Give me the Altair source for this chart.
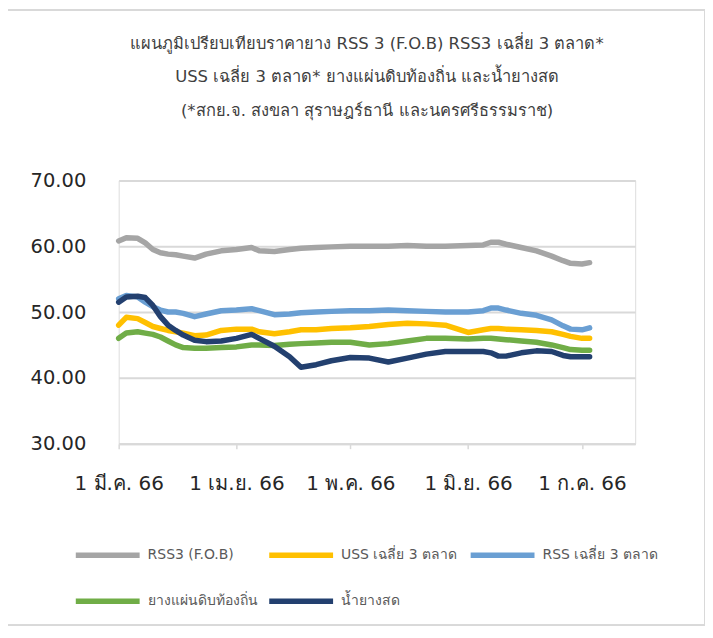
import altair as alt
import pandas as pd

# day offsets from 1 Mar 2023
days = [0, 2, 5, 7, 9, 11, 13, 15, 17, 20, 23, 27, 31, 35, 37, 41, 45, 48, 52, 56,
        61, 66, 71, 76, 81, 86, 92, 96, 98, 100, 102, 106, 110, 114, 117, 119, 122, 124]

rss3_fob = [60.8, 61.3, 61.2, 60.5, 59.5, 59.0, 58.8, 58.7, 58.5, 58.2, 58.8, 59.3, 59.5, 59.8,
            59.3, 59.2, 59.5, 59.7, 59.8, 59.9, 60.0, 60.0, 60.0, 60.1, 60.0, 60.0, 60.1, 60.2,
            60.6, 60.6, 60.3, 59.8, 59.3, 58.5, 57.8, 57.4, 57.3, 57.5]
uss_avg = [48.0, 49.2, 49.0, 48.4, 47.8, 47.5, 47.2, 47.0, 46.8, 46.4, 46.5, 47.2, 47.4, 47.4,
           47.0, 46.7, 47.0, 47.3, 47.3, 47.5, 47.6, 47.8, 48.1, 48.3, 48.2, 48.0, 46.9, 47.3,
           47.5, 47.5, 47.4, 47.3, 47.2, 47.0, 46.6, 46.3, 46.0, 46.0]
rss_avg = [52.0, 52.5, 52.3, 51.5, 50.8, 50.3, 50.0, 50.0, 49.8, 49.3, 49.7, 50.2, 50.3, 50.5,
           50.2, 49.6, 49.7, 49.9, 50.0, 50.1, 50.2, 50.2, 50.3, 50.2, 50.1, 50.0, 50.0, 50.2,
           50.6, 50.6, 50.3, 49.8, 49.5, 48.8, 47.9, 47.4, 47.3, 47.6]
local_sheet = [46.0, 46.8, 47.0, 46.8, 46.6, 46.2, 45.6, 45.0, 44.6, 44.5, 44.5, 44.6, 44.7, 45.0,
               45.0, 44.9, 45.1, 45.2, 45.3, 45.4, 45.4, 45.0, 45.2, 45.6, 46.0, 46.0, 45.9, 46.0,
               46.0, 45.9, 45.8, 45.6, 45.4, 45.0, 44.6, 44.3, 44.2, 44.2]
latex = [51.5, 52.3, 52.4, 52.2, 51.0, 49.3, 48.0, 47.2, 46.5, 45.7, 45.5, 45.6, 46.0, 46.6,
         46.0, 44.8, 43.2, 41.6, 42.0, 42.6, 43.1, 43.0, 42.4, 43.0, 43.6, 44.0, 44.0, 44.0,
         43.8, 43.3, 43.3, 43.8, 44.1, 44.0, 43.4, 43.2, 43.2, 43.2]

series_names = ["RSS3 (F.O.B)", "USS เฉลี่ย 3 ตลาด", "RSS เฉลี่ย 3 ตลาด", "ยางแผ่นดิบท้องถิ่น", "น้ำยางสด"]
series_colors = ["#a5a5a5", "#ffc000", "#6a9fd3", "#70ad47", "#23406f"]
series_values = [rss3_fob, uss_avg, rss_avg, local_sheet, latex]

tick_dates = ["2023-03-01", "2023-04-01", "2023-05-01", "2023-06-01", "2023-07-01"]
tick_labels = ["1 มี.ค. 66", "1 เม.ย. 66", "1 พ.ค. 66", "1 มิ.ย. 66", "1 ก.ค. 66"]

title_lines = ["แผนภูมิเปรียบเทียบราคายาง RSS 3 (F.O.B) RSS3 เฉลี่ย 3 ตลาด*",
               "USS เฉลี่ย 3 ตลาด* ยางแผ่นดิบท้องถิ่น และน้ำยางสด",
               "(*สกย.จ. สงขลา สุราษฎร์ธานี และนครศรีธรรมราช)"]

start = pd.Timestamp("2023-03-01")
rows = []
for name, vals in zip(series_names, series_values):
    for d, v in zip(days, vals):
        rows.append({"date": (start + pd.Timedelta(days=d)).strftime("%Y-%m-%d"),
                     "series": name, "value": v})
df = pd.DataFrame(rows)

FONT = "'DejaVu Sans', sans-serif"
W, H = 518, 264

label_expr = "[" + ",".join("'" + t + "'" for t in tick_labels) + "][utcmonth(datum.value) - 2]"
tick_dt = [alt.DateTime(year=int(t[:4]), month=int(t[5:7]), date=int(t[8:]), utc=True) for t in tick_dates]

lines = alt.Chart(df).mark_line(strokeWidth=5.5, strokeCap="round", strokeJoin="round").encode(
    x=alt.X("date:T",
            scale=alt.Scale(type="utc",
                            domain=[alt.DateTime(year=2023, month=3, date=1, utc=True),
                                    alt.DateTime(year=2023, month=7, date=15, utc=True)]),
            axis=alt.Axis(values=tick_dt, labelExpr=label_expr, title=None, grid=False,
                          domainColor="#d9d9d9", domainWidth=2, tickColor="#d9d9d9",
                          tickWidth=1.5, tickSize=5, labelFontSize=20, labelColor="#262626",
                          labelPadding=25, labelFont=FONT, labelAlign="center")),
    y=alt.Y("value:Q", scale=alt.Scale(domain=[30, 70], nice=False, zero=False),
            axis=alt.Axis(values=[30, 40, 50, 60, 70], format=".2f", title=None,
                          domain=False, ticks=False, gridColor="#d9d9d9", gridWidth=2,
                          labelFontSize=19.5, labelColor="#262626", labelPadding=33,
                          labelFont=FONT)),
    color=alt.Color("series:N",
                    scale=alt.Scale(domain=series_names, range=series_colors),
                    sort=series_names,
                    legend=alt.Legend(title=None, orient="none", legendX=-46, legendY=341,
                                      direction="horizontal", columns=3,
                                      symbolType="stroke", symbolSize=4100,
                                      symbolStrokeWidth=5.5, labelFontSize=14,
                                      labelColor="#595959", labelFont=FONT,
                                      rowPadding=-13, columnPadding=0,
                                      labelOffset=5)),
    order=alt.Order("series:N")
)

frame = alt.Chart(df).mark_rect(fill=None, stroke="#d9d9d9", strokeWidth=1.5).encode(
    x=alt.value(-112), x2=alt.value(W + 70), y=alt.value(-171), y2=alt.value(H + 182)
)

chart = alt.layer(frame, lines).properties(
    width=W, height=H,
    title=alt.TitleParams(text=title_lines, fontSize=16.5, fontWeight="normal",
                          color="#404040", font=FONT, lineHeight=34,
                          anchor="middle", dx=-10, offset=58, dy=169),
    padding={"left": 111, "top": 172, "right": 70, "bottom": 190},
    autosize=alt.AutoSizeParams(type="none")
).configure_view(stroke=None).configure(background="white")

chart.save("out.html", embed_options={"renderer": "svg", "actions": False})
